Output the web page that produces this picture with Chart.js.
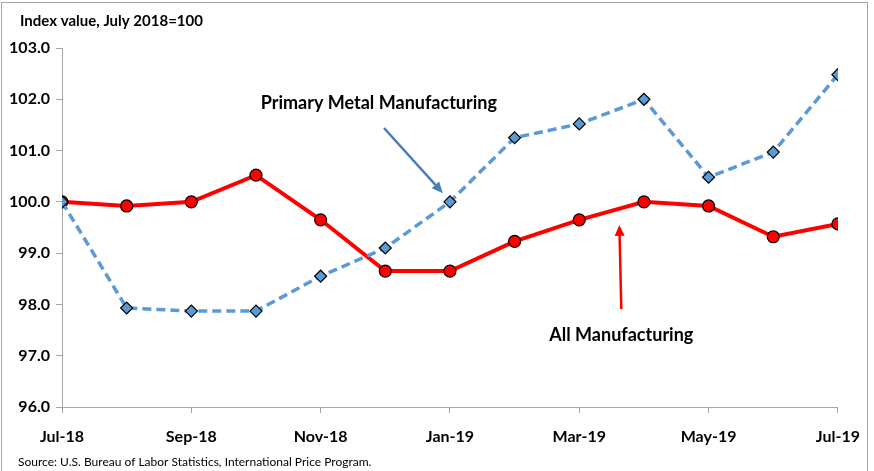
<!DOCTYPE html>
<html>
<head>
<meta charset="utf-8">
<script src="https://cdn.jsdelivr.net/npm/chart.js@4.4.1/dist/chart.umd.min.js"></script>
<style>
  html, body { margin: 0; padding: 0; background: #fff; }
  #wrap { position: relative; width: 874px; height: 471px; }
</style>
</head>
<body>
<div id="wrap"><canvas id="myChart" width="874" height="471"></canvas></div>
<script>
const months = ['Jul-18', 'Aug-18', 'Sep-18', 'Oct-18', 'Nov-18', 'Dec-18', 'Jan-19',
  'Feb-19', 'Mar-19', 'Apr-19', 'May-19', 'Jun-19', 'Jul-19'];
const allManufacturing = [100.0, 99.92, 100.0, 100.52, 99.65, 98.65, 98.65, 99.23, 99.65, 100.0, 99.92, 99.32, 99.57];
const primaryMetal = [100.0, 97.93, 97.87, 97.87, 98.55, 99.1, 100.0, 101.25, 101.52, 102.0, 100.48, 100.97, 102.48];
const yTicks = [96, 97, 98, 99, 100, 101, 102, 103];

const titleText = 'Index value, July 2018=100';
const sourceText = 'Source: U.S. Bureau of Labor Statistics, International Price Program.';

const FONT = "Lato, 'Liberation Sans', sans-serif";

// labels + arrows, placed in data coordinates
const notes = [
  { text: 'Primary Metal Manufacturing', x: 4.9, y: 101.93, color: '#4a7ebb', from: [4.98, 101.44], to: [5.89, 100.17] },
  { text: 'All Manufacturing', x: 8.65, y: 97.40, color: '#ff0000', from: [8.65, 97.91], to: [8.62, 99.55] }
];

const annotations = {
  id: 'annotations',
  afterDraw(chart) {
    const ctx = chart.ctx;
    const xs = chart.scales.x, ys = chart.scales.y;
    ctx.save();
    notes.forEach(n => {
      ctx.font = 'bold 18px ' + FONT;
      ctx.fillStyle = '#000';
      ctx.textAlign = 'center';
      ctx.textBaseline = 'middle';
      ctx.fillText(n.text, xs.getPixelForValue(n.x), ys.getPixelForValue(n.y));

      const x1 = xs.getPixelForValue(n.from[0]), y1 = ys.getPixelForValue(n.from[1]);
      const x2 = xs.getPixelForValue(n.to[0]), y2 = ys.getPixelForValue(n.to[1]);
      const ang = Math.atan2(y2 - y1, x2 - x1);
      ctx.strokeStyle = n.color;
      ctx.fillStyle = n.color;
      ctx.lineWidth = 2.5;
      ctx.beginPath();
      ctx.moveTo(x1, y1);
      ctx.lineTo(x2 - 8 * Math.cos(ang), y2 - 8 * Math.sin(ang));
      ctx.stroke();
      ctx.beginPath();
      ctx.moveTo(x2, y2);
      ctx.lineTo(x2 - 11 * Math.cos(ang) + 5 * Math.sin(ang), y2 - 11 * Math.sin(ang) - 5 * Math.cos(ang));
      ctx.lineTo(x2 - 11 * Math.cos(ang) - 5 * Math.sin(ang), y2 - 11 * Math.sin(ang) + 5 * Math.cos(ang));
      ctx.closePath();
      ctx.fill();
    });

    // title + source line
    ctx.fillStyle = '#000';
    ctx.textAlign = 'left';
    ctx.textBaseline = 'middle';
    ctx.font = 'bold 15px ' + FONT;
    ctx.fillText(titleText, 20, 21);
    ctx.font = '12px ' + FONT;
    ctx.fillText(sourceText, 18, 462);

    // outer frame
    ctx.strokeStyle = '#a6a6a6';
    ctx.lineWidth = 1;
    ctx.strokeRect(1.5, 2.5, 866, 470);
    ctx.restore();
  }
};

const ctx = document.getElementById('myChart').getContext('2d');
const chart = new Chart(ctx, {
  type: 'line',
  data: {
    datasets: [{
      label: 'Primary Metal Manufacturing',
      data: primaryMetal.map((v, i) => ({ x: i, y: v })),
      borderColor: '#5b9bd5',
      borderWidth: 3.5,
      borderDash: [9, 5],
      pointStyle: 'rectRot',
      pointRadius: 6,
      pointBackgroundColor: '#5b9bd5',
      pointBorderColor: '#000',
      pointBorderWidth: 1.2,
      tension: 0
    }, {
      label: 'All Manufacturing',
      data: allManufacturing.map((v, i) => ({ x: i, y: v })),
      borderColor: '#ff0000',
      borderWidth: 4,
      pointStyle: 'circle',
      pointRadius: 6,
      pointBackgroundColor: '#ff0000',
      pointBorderColor: '#000',
      pointBorderWidth: 1.2,
      tension: 0
    }]
  },
  options: {
    responsive: false,
    animation: false,
    layout: { padding: { left: 4, right: 31, top: 48, bottom: 21 } },
    plugins: {
      legend: { display: false },
      tooltip: { enabled: false }
    },
    scales: {
      x: {
        type: 'linear',
        min: 0,
        max: 12,
        afterBuildTicks: s => { s.ticks = months.map((m, i) => ({ value: i })).filter(t => t.value % 2 === 0); },
        afterFit: s => { s.height = 43; },
        ticks: {
          autoSkip: false,
          maxRotation: 0,
          color: '#000',
          padding: 14,
          font: { family: FONT, size: 16, weight: 'bold' },
          callback: v => months[v]
        },
        grid: { drawOnChartArea: false, drawTicks: true, tickLength: 6, color: '#a6a6a6' },
        border: { color: '#a6a6a6', width: 1 }
      },
      y: {
        min: 96,
        max: 103,
        afterBuildTicks: s => { s.ticks = yTicks.map(v => ({ value: v })); },
        afterFit: s => { s.width = 58; },
        ticks: {
          color: '#000',
          padding: 6,
          font: { family: FONT, size: 16, weight: 'bold' },
          callback: v => v.toFixed(1)
        },
        grid: { drawOnChartArea: false, drawTicks: true, tickLength: 6, color: '#a6a6a6' },
        border: { color: '#a6a6a6', width: 1 }
      }
    }
  },
  plugins: [annotations]
});
</script>
</body>
</html>
